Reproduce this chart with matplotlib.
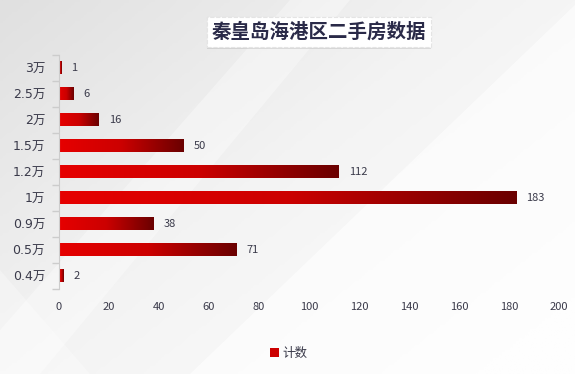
import numpy as np
import matplotlib
matplotlib.use("Agg")
import matplotlib.pyplot as plt
from matplotlib.colors import LinearSegmentedColormap
from matplotlib.patches import Polygon, Rectangle
import matplotlib.patheffects as pe

plt.rcParams['font.family'] = ['Noto Sans CJK SC', 'DejaVu Sans']

categories = ['0.4万', '0.5万', '0.9万', '1万', '1.2万', '1.5万', '2万', '2.5万', '3万']
counts = [2, 71, 38, 183, 112, 50, 16, 6, 1]
x_ticks = [0, 20, 40, 60, 80, 100, 120, 140, 160, 180, 200]
title = '秦皇岛海港区二手房数据'
legend_label = '计数'

W, H = 575, 374
fig = plt.figure(figsize=(W / 100, H / 100), dpi=100)

# ---- background ----
bg = fig.add_axes([0, 0, 1, 1], zorder=-10)
bg.set_xlim(0, W)
bg.set_ylim(H, 0)
bg.axis('off')
gx = np.linspace(0, 1, 200)
gy = np.linspace(0, 1, 130)
GX, GY = np.meshgrid(gx, gy)
grad = np.clip(0.6 * GX + 0.5 * GY, 0, 1)
bgcmap = LinearSegmentedColormap.from_list('bg', ['#e0e0e0', '#f3f3f3', '#fdfdfd'])
bg.imshow(grad, cmap=bgcmap, extent=[0, W, H, 0], aspect='auto', zorder=0)
bg.add_patch(Polygon([[290, 0], [350, 0], [40, 374], [0, 374], [0, 330]],
                     closed=True, fc='white', ec='none', alpha=0.35, zorder=1))
bg.add_patch(Polygon([[575, 5], [575, 374], [190, 374]],
                     closed=True, fc='white', ec='none', alpha=0.6, zorder=1))
bg.add_patch(Polygon([[0, 270], [0, 374], [90, 374]],
                     closed=True, fc='white', ec='none', alpha=0.3, zorder=1))

# ---- main axes ----
ax = fig.add_axes([59 / W, 1 - 289 / H, 500 / W, 234 / H])
ax.set_facecolor('none')
y = np.arange(len(categories))
bars = ax.barh(y, counts, height=0.5, color='none', edgecolor='none')

cmap = LinearSegmentedColormap.from_list('red', ['#e60000', '#cc0000', '#6a0000'])
grad_row = np.linspace(0, 1, 256).reshape(1, -1)
for b in bars:
    x0, y0 = b.get_x(), b.get_y()
    w, h = b.get_width(), b.get_height()
    ax.imshow(grad_row, cmap=cmap, extent=[x0, x0 + w, y0, y0 + h],
              aspect='auto', zorder=2, interpolation='bilinear')

for yi, v in zip(y, counts):
    ax.annotate(str(v), (v, yi), xytext=(7, 0), textcoords='offset points',
                va='center', ha='left', fontsize=8, color='#3a3a4a')

ax.set_xlim(0, 200)
ax.set_ylim(-0.5, len(categories) - 0.5)
ax.set_xticks(x_ticks)
ax.set_xticklabels([str(t) for t in x_ticks], fontsize=8, color='#3a3a4a')
ax.set_yticks(y)
ax.set_yticklabels(categories, fontsize=9, color='#3a3a4a',
                   family=['DejaVu Sans', 'Noto Sans CJK SC'])
ax.set_yticks(np.arange(-0.5, len(categories), 1), minor=True)
ax.tick_params(axis='y', which='major', length=0, pad=10)
ax.tick_params(axis='y', which='minor', length=5, color='#cccccc', width=1)
ax.tick_params(axis='x', length=0, pad=9)
for s in ['top', 'right', 'bottom']:
    ax.spines[s].set_visible(False)
ax.spines['left'].set_color('#cccccc')

# ---- title ----
t = fig.text(319 / W, 1 - 32 / H, title, ha='center', va='center',
             fontsize=14, fontweight='bold', color='#2a2a48',
             bbox=dict(boxstyle='square,pad=0.25', fc='white', ec='#e4e4e4',
                       ls='--', lw=0.8))
t.get_bbox_patch().set_path_effects([pe.withSimplePatchShadow(offset=(0, -2), alpha=0.15),
                                     pe.Normal()])

# ---- legend ----
leg_handle = Rectangle((0, 0), 1, 1, fc='#cc0000', ec='none')
fig.legend([leg_handle], [legend_label], loc='center', bbox_to_anchor=(289 / W, 1 - 353 / H),
           frameon=False, fontsize=9, handlelength=0.7, handleheight=0.7,
           handletextpad=0.3, labelcolor='#3a3a4a')

fig.savefig('out.png', dpi=100)
